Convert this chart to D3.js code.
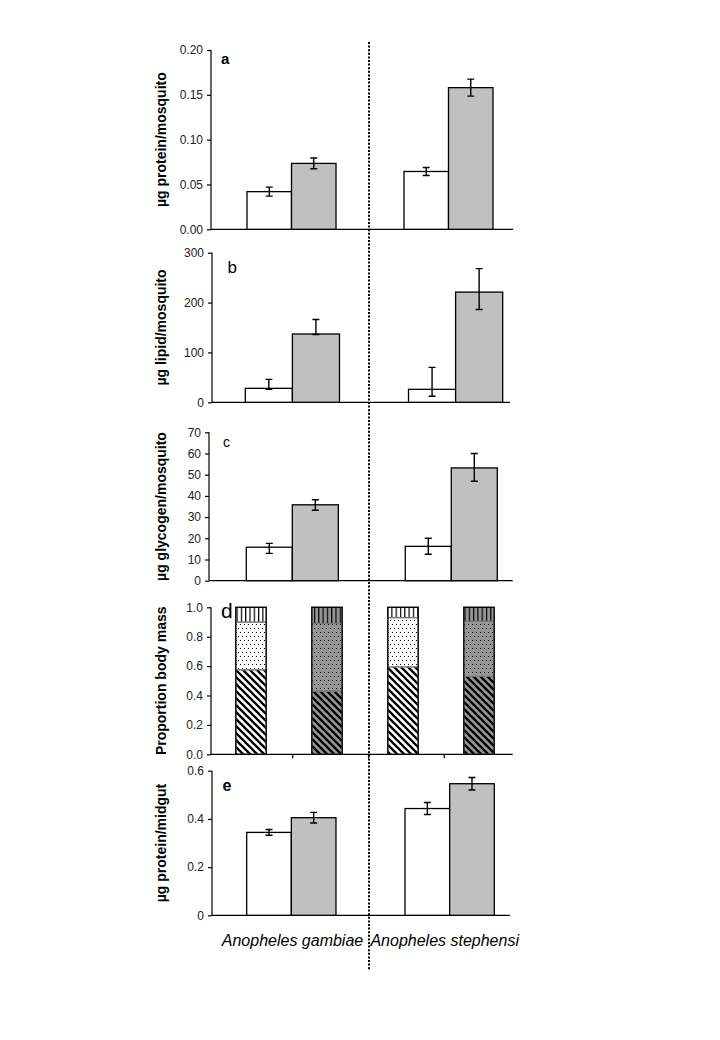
<!DOCTYPE html>
<html><head><meta charset="utf-8">
<script src="https://cdn.jsdelivr.net/npm/d3@7"></script>
<style>body{margin:0;background:#fff}svg{display:block}</style>
</head><body>
<svg id="chart" width="720" height="1040"></svg>
<script>
// ---------------- data ----------------
const species = ["Anopheles gambiae", "Anopheles stephensi"];
const groups = ["open", "filled"];
// panel a: µg protein / mosquito
const proteinMean = [[0.042, 0.0735], [0.0645, 0.158]];
const proteinErr  = [[0.005, 0.006], [0.0045, 0.0095]];
// panel b: µg lipid / mosquito (asymmetric error)
const lipidMean = [[28, 137], [26, 221]];
const lipidLow  = [[26, 136], [12, 186]];
const lipidHigh = [[46, 166], [70, 268]];
// panel c: µg glycogen / mosquito (asymmetric error)
const glycogenMean = [[15.8, 35.8], [16.2, 53.2]];
const glycogenLow  = [[12.9, 33.2], [12.5, 46.9]];
const glycogenHigh = [[17.6, 38.2], [20.0, 60.0]];
// panel d: proportion body mass (4 bars)
const propBars = ["gam-open", "gam-filled", "ste-open", "ste-filled"];
const propBottom = [0.575, 0.43, 0.595, 0.53];
const propMiddle = [0.325, 0.46, 0.335, 0.375];
const propTop    = [0.100, 0.11, 0.070, 0.095];
// panel e: µg protein / midgut
const midgutMean = [[0.344, 0.405], [0.443, 0.546]];
const midgutErr  = [[0.012, 0.022], [0.025, 0.026]];
// tick values
const ticksA = [0, 0.05, 0.10, 0.15, 0.20];
const ticksB = [0, 100, 200, 300];
const ticksC = [0, 10, 20, 30, 40, 50, 60, 70];
const ticksD = [0, 0.2, 0.4, 0.6, 0.8, 1.0];
const ticksE = [0, 0.2, 0.4, 0.6];
const yLabels = ["µg protein/mosquito", "µg lipid/mosquito", "µg glycogen/mosquito", "Proportion body mass", "µg protein/midgut"];
const panelLetters = ["a", "b", "c", "d", "e"];

// ---------------- drawing ----------------
const svg = d3.select("#chart");
const FONT = "Arial, 'Liberation Sans', sans-serif";
const defs = svg.append("defs");

function hatchPattern(id, bg) {
  const p = defs.append("pattern").attr("id", id).attr("patternUnits", "userSpaceOnUse")
    .attr("width", 7).attr("height", 7);
  p.append("rect").attr("width", 7).attr("height", 7).attr("fill", bg);
  p.append("path").attr("d", "M-1,-1 L8,8 M-1,6 L1,8 M6,-1 L8,1")
    .attr("stroke", "#000").attr("stroke-width", 2.3);
}
function dotPattern(id, bg) {
  const p = defs.append("pattern").attr("id", id).attr("patternUnits", "userSpaceOnUse")
    .attr("width", 4).attr("height", 8);
  p.append("rect").attr("width", 4).attr("height", 8).attr("fill", bg);
  p.append("rect").attr("x", 0).attr("y", 0).attr("width", 1).attr("height", 1).attr("fill", "#000");
  p.append("rect").attr("x", 2).attr("y", 4).attr("width", 1).attr("height", 1).attr("fill", "#000");
}
function stripePattern(id, bg) {
  const p = defs.append("pattern").attr("id", id).attr("patternUnits", "userSpaceOnUse")
    .attr("width", 4.3).attr("height", 10);
  p.append("rect").attr("width", 4.3).attr("height", 10).attr("fill", bg);
  p.append("rect").attr("x", 0).attr("y", 0).attr("width", 1.2).attr("height", 10).attr("fill", "#000");
}
const DARK = "#969696", LIGHT = "#c0c0c0";
hatchPattern("hatchW", "#fff"); hatchPattern("hatchG", DARK);
dotPattern("dotW", "#fff"); dotPattern("dotG", DARK);
stripePattern("stripeW", "#fff"); stripePattern("stripeG", DARK);

function drawAxisY(cfg, y, ticks, fmt, idx) {
  const g = svg.append("g").attr("transform", `translate(${cfg.axisX},0)`);
  const ax = d3.axisLeft(y).tickValues(ticks).tickFormat(fmt).tickSize(4).tickPadding(4);
  g.call(ax);
  g.select(".domain").attr("d", `M0,${y(ticks[ticks.length-1])}V${y(0)}`).attr("stroke", "#000").attr("stroke-width", 1.2);
  g.selectAll(".tick line").attr("stroke", "#000").attr("stroke-width", 1.2);
  g.selectAll(".tick text").attr("font-family", FONT).attr("font-size", 12).attr("fill", "#222");
  // x axis line
  svg.append("line").attr("x1", cfg.axisX).attr("x2", cfg.right).attr("y1", y(0)).attr("y2", y(0))
    .attr("stroke", "#000").attr("stroke-width", 1.2);
  // y label
  svg.append("text").attr("transform", `translate(166,${(cfg.top + cfg.bottom) / 2}) rotate(-90)`)
    .attr("text-anchor", "middle").attr("font-family", FONT).attr("font-weight", "bold")
    .attr("font-size", 14).attr("fill", "#000").text(yLabels[idx]);
  // panel letter
  svg.append("text").attr("x", cfg.letterX).attr("y", cfg.letterY).attr("font-family", FONT)
    .attr("font-size", cfg.letterSize).attr("font-weight", cfg.letterBold ? "bold" : "normal")
    .attr("fill", "#000").text(panelLetters[idx]);
}

function barPanel(cfg, means, lows, highs, ticks, fmt, idx) {
  const y = d3.scaleLinear().domain([0, ticks[ticks.length - 1]]).range([cfg.bottom, cfg.top]);
  const x0 = d3.scaleBand().domain(species).range(cfg.range).paddingInner(cfg.pi).paddingOuter(0);
  const x1 = d3.scaleBand().domain(groups).range([0, x0.bandwidth()]);
  drawAxisY(cfg, y, ticks, fmt, idx);
  const data = [];
  species.forEach((s, i) => groups.forEach((gname, j) => data.push({
    s, g: gname, v: means[i][j], lo: lows[i][j], hi: highs[i][j]
  })));
  const gb = svg.append("g");
  gb.selectAll("rect").data(data).join("rect")
    .attr("x", d => x0(d.s) + x1(d.g)).attr("width", x1.bandwidth())
    .attr("y", d => y(d.v)).attr("height", d => y(0) - y(d.v))
    .attr("fill", d => d.g === "open" ? "#fff" : LIGHT)
    .attr("stroke", "#000").attr("stroke-width", 1.3);
  const eb = svg.append("g").attr("stroke", "#000").attr("stroke-width", 1.4).attr("fill", "none");
  data.forEach(d => {
    const cx = x0(d.s) + x1(d.g) + x1.bandwidth() / 2;
    eb.append("path").attr("d",
      `M${cx},${y(d.hi)}V${y(d.lo)}M${cx-3.5},${y(d.hi)}H${cx+3.5}M${cx-3.5},${y(d.lo)}H${cx+3.5}`);
  });
}

const sym = (m, e) => m.map((r, i) => r.map((v, j) => v - e[i][j]));
const symH = (m, e) => m.map((r, i) => r.map((v, j) => v + e[i][j]));

barPanel({top: 50, bottom: 229.3, axisX: 211, right: 513, range: [247, 493], pi: 0.433,
  letterX: 221, letterY: 64, letterSize: 15, letterBold: true},
  proteinMean, sym(proteinMean, proteinErr), symH(proteinMean, proteinErr), ticksA, d3.format(".2f"), 0);

barPanel({top: 252.7, bottom: 402.3, axisX: 212, right: 510, range: [245.3, 502.7], pi: 0.423,
  letterX: 227.5, letterY: 273, letterSize: 17, letterBold: false},
  lipidMean, lipidLow, lipidHigh, ticksB, d3.format("d"), 1);

barPanel({top: 432.3, bottom: 580.7, axisX: 209, right: 512.7, range: [246.3, 497.3], pi: 0.421,
  letterX: 223, letterY: 447, letterSize: 14, letterBold: false},
  glycogenMean, glycogenLow, glycogenHigh, ticksC, d3.format("d"), 2);

// panel d: stacked proportions
(function () {
  const cfg = {top: 607.3, bottom: 754.3, axisX: 211, right: 512.7,
    letterX: 221, letterY: 618, letterSize: 21, letterBold: false};
  const y = d3.scaleLinear().domain([0, 1]).range([cfg.bottom, cfg.top]);
  const x = d3.scaleBand().domain(propBars).range([213, 517]).paddingInner(0.6).paddingOuter(0.3);
  drawAxisY(cfg, y, ticksD, d3.format(".1f"), 3);
  // category boundary ticks
  const xi = d3.scaleLinear().domain([0, 4]).range([217, 520]);
  svg.append("g").selectAll("line").data([1, 2, 3]).join("line")
    .attr("x1", d => xi(d)).attr("x2", d => xi(d)).attr("y1", y(0)).attr("y2", y(0) + 4)
    .attr("stroke", "#000").attr("stroke-width", 1.2);
  const rows = propBars.map((b, i) => ({bar: b, bottom: propBottom[i], middle: propMiddle[i], top: propTop[i]}));
  const stack = d3.stack().keys(["bottom", "middle", "top"])(rows);
  const fills = {
    bottom: ["hatchW", "hatchG"], middle: ["dotW", "dotG"], top: ["stripeW", "stripeG"]
  };
  const g = svg.append("g");
  stack.forEach(layer => {
    g.append("g").selectAll("rect").data(layer).join("rect")
      .attr("x", d => x(d.data.bar)).attr("width", x.bandwidth())
      .attr("y", d => y(d[1])).attr("height", d => y(d[0]) - y(d[1]))
      .attr("fill", (d, i) => `url(#${fills[layer.key][i % 2]})`)
      .attr("stroke", "#777").attr("stroke-width", 1.2);
  });
  g.append("g").selectAll("rect").data(rows).join("rect")
    .attr("x", d => x(d.bar)).attr("width", x.bandwidth())
    .attr("y", d => y(d.bottom + d.middle + d.top)).attr("height", d => y(0) - y(d.bottom + d.middle + d.top))
    .attr("fill", "none").attr("stroke", "#000").attr("stroke-width", 1.3);
})();

barPanel({top: 770.7, bottom: 915.3, axisX: 212, right: 510, range: [246.7, 494.3], pi: 0.436,
  letterX: 222.5, letterY: 791, letterSize: 16, letterBold: true},
  midgutMean, sym(midgutMean, midgutErr), symH(midgutMean, midgutErr), ticksE, d => d === 0 ? "0" : d3.format(".1f")(d), 4);

// species labels
svg.append("g").selectAll("text").data(species).join("text")
  .attr("x", (d, i) => i === 0 ? 292.5 : 444.7).attr("y", 946)
  .attr("text-anchor", "middle").attr("font-family", FONT).attr("font-style", "italic")
  .attr("font-size", 16).attr("fill", "#000").text(d => d);

// dotted separator
svg.append("line").attr("x1", 369).attr("x2", 369).attr("y1", 42).attr("y2", 970)
  .attr("stroke", "#000").attr("stroke-width", 2).attr("stroke-dasharray", "2,1.6");
</script>
</body></html>
